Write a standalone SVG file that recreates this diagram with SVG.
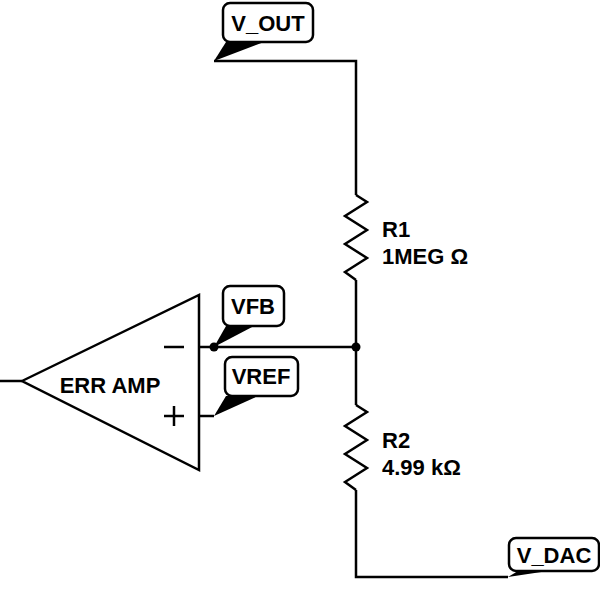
<svg xmlns="http://www.w3.org/2000/svg" width="600" height="596" viewBox="0 0 600 596">
<style>
.w{fill:none;stroke:#000;stroke-width:2.5;stroke-linejoin:miter}
.lb{fill:#fff;stroke:#000;stroke-width:2.5}
.t{font-family:"Liberation Sans",Arial,sans-serif;font-weight:bold;font-size:22px;fill:#000}
.L{font-size:22px}
</style>
<g id="connectors">
<polyline class="w" points="214,61 356,61 356,195"/>
<polyline class="w" points="356,280 356,405"/>
<polyline class="w" points="356,490 356,577 508,577"/>
<polyline class="w" points="199,347 356,347"/>
<polyline class="w" points="199,416 214,416"/>
<line class="w" x1="0" y1="381" x2="22" y2="381"/>
<circle cx="214" cy="347" r="4.5"/>
<circle cx="356" cy="347" r="4.5"/>
</g>
<g id="R1">
<polyline class="w" points="356,195 367,202 345,216 367,230 345,244 367,258 345,272 356,280"/>
<text class="t" x="382" y="237">R1</text>
<text class="t" x="382" y="264">1MEG Ω</text>
</g>
<g id="R2">
<polyline class="w" points="356,405 367,412 345,426 367,440 345,454 367,468 345,482 356,490"/>
<text class="t" x="382" y="448">R2</text>
<text class="t" x="382" y="475">4.99 kΩ</text>
</g>
<g id="opamp">
<polygon class="w" points="22,381 199,295 199,470"/>
<line class="w" x1="164" y1="347" x2="184" y2="347"/>
<line class="w" x1="164" y1="416" x2="184" y2="416"/>
<line class="w" x1="174" y1="406" x2="174" y2="426"/>
<text class="t" x="110" y="393" text-anchor="middle">ERR AMP</text>
</g>
<g id="V_OUT">
<polygon points="214,61 226,42 264,42"/>
<rect class="lb" x="223" y="3" width="90" height="39" rx="7"/>
<text class="t L" x="268" y="31" text-anchor="middle">V_OUT</text>
</g>
<g id="VFB">
<polygon points="214,347 226,326 254,326"/>
<rect class="lb" x="223" y="286" width="61" height="40" rx="7"/>
<text class="t L" x="253" y="314" text-anchor="middle">VFB</text>
</g>
<g id="VREF">
<polygon points="214,416 226,396 258,396"/>
<rect class="lb" x="225" y="357" width="73" height="39" rx="7"/>
<text class="t L" x="261" y="384" text-anchor="middle">VREF</text>
</g>
<g id="V_DAC">
<polygon points="508,577 518,571 548,571"/>
<rect class="lb" x="509" y="538" width="90" height="33" rx="7"/>
<text class="t L" x="554" y="563" text-anchor="middle">V_DAC</text>
</g>
</svg>
